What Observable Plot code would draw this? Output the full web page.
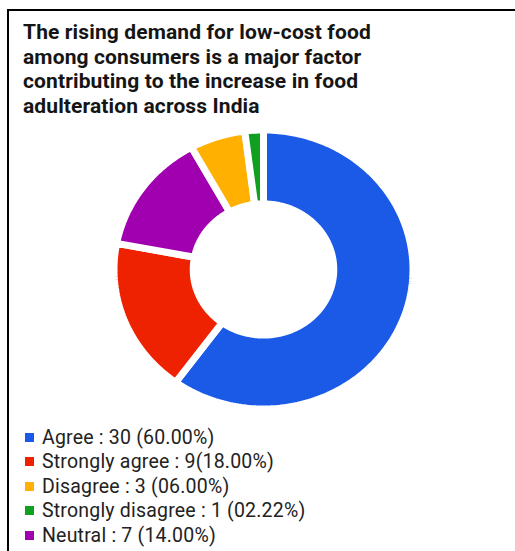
<!DOCTYPE html>
<html>
<head>
<meta charset="utf-8">
<script src="https://cdn.jsdelivr.net/npm/d3@7"></script>
<script src="https://cdn.jsdelivr.net/npm/@observablehq/plot@0.6"></script>
<style>
  html, body { margin: 0; padding: 0; background: #fff; }
  #wrap { position: relative; width: 515px; height: 551px; overflow: hidden; font-family: Roboto, "Noto Sans", sans-serif; color: #222; }
  #frame { position: absolute; left: 7px; top: 9px; width: 520px; height: 560px; border-top: 2.5px solid #000; border-left: 2.5px solid #000; }
  #title { position: absolute; left: 23px; top: 20px; font-weight: bold; font-size: 21px; letter-spacing: 0.12px; line-height: 24.7px; color: #151515; }
  #chart { position: absolute; left: 0; top: 120px; }
  #legend { position: absolute; left: 25px; top: 425px; }
  .row { height: 24.5px; display: flex; align-items: center; font-size: 19.5px; letter-spacing: 0.2px; color: #222; }
  .sw { width: 9px; height: 9px; margin-right: 8px; }
</style>
</head>
<body>
<div id="wrap">
  <div id="frame"></div>
  <div id="title">The rising demand for low-cost food<br>among consumers is a major factor<br>contributing to the increase in food<br>adulteration across India</div>
  <div id="chart"></div>
  <div id="legend"></div>
</div>
<script>
// Data (drawing order: clockwise from 12 o'clock)
const sliceNames = ["Agree", "Strongly agree", "Neutral", "Disagree", "Strongly disagree"];
const sliceValues = [30, 9, 7, 3, 1];
const sliceColors = ["#1a5ae6", "#ee2200", "#a000b0", "#ffb000", "#10a020"];

// Legend order and labels
const legendNames = ["Agree", "Strongly agree", "Disagree", "Strongly disagree", "Neutral"];
const legendLabels = ["Agree : 30 (60.00%)", "Strongly agree : 9(18.00%)", "Disagree : 3 (06.00%)", "Strongly disagree : 1 (02.22%)", "Neutral : 7 (14.00%)"];

const innerRatio = 0.47;
const pie = d3.pie().sort(null).value(d => d.value)(sliceNames.map((n, i) => ({name: n, value: sliceValues[i]})));

const pts = [];
for (const p of pie) {
  const n = Math.max(4, Math.ceil((p.endAngle - p.startAngle) / 0.02));
  for (let k = 0; k <= n; k++) {
    const a = p.startAngle + (p.endAngle - p.startAngle) * k / n;
    pts.push({name: p.data.name, x: Math.sin(a), y: Math.cos(a)});
  }
  for (let k = n; k >= 0; k--) {
    const a = p.startAngle + (p.endAngle - p.startAngle) * k / n;
    pts.push({name: p.data.name, x: innerRatio * Math.sin(a), y: innerRatio * Math.cos(a)});
  }
}

const cx = 263, cy = 149, rx = 149.5, ry = 139.5;
const plot = Plot.plot({
  width: 515, height: 300,
  margin: 0,
  x: {domain: [-1, 1], range: [cx - rx, cx + rx], axis: null},
  y: {domain: [-1, 1], range: [cy + ry, cy - ry], axis: null},
  color: {domain: sliceNames, range: sliceColors},
  marks: [
    Plot.line(pts, {x: "x", y: "y", z: "name", fill: "name", stroke: "white", strokeWidth: 7, curve: "linear-closed", strokeLinejoin: "miter"})
  ]
});
document.getElementById("chart").appendChild(plot);

const lg = document.getElementById("legend");
legendNames.forEach((n, i) => {
  const row = document.createElement("div");
  row.className = "row";
  const sw = document.createElement("span");
  sw.className = "sw";
  sw.style.background = sliceColors[sliceNames.indexOf(n)];
  const t = document.createElement("span");
  t.textContent = legendLabels[i];
  row.appendChild(sw); row.appendChild(t);
  lg.appendChild(row);
});
</script>
</body>
</html>
